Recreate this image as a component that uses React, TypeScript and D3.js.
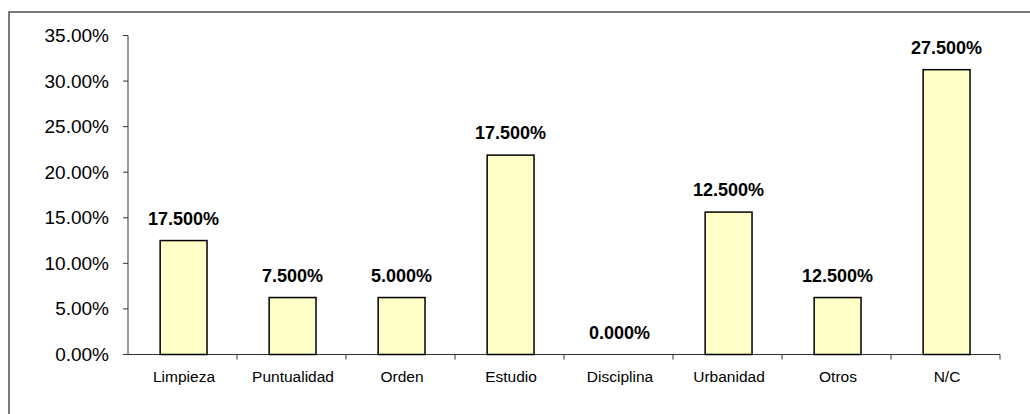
import React from "react";
import * as d3 from "d3";

const categories = ["Limpieza", "Puntualidad", "Orden", "Estudio", "Disciplina", "Urbanidad", "Otros", "N/C"];
const barValues = [12.5, 6.25, 6.25, 21.875, 0, 15.625, 6.25, 31.25];
const labelTexts = ["17.500%", "7.500%", "5.000%", "17.500%", "0.000%", "12.500%", "12.500%", "27.500%"];
const yTicks = [0, 5, 10, 15, 20, 25, 30, 35];

export default function App() {
  const W = 1030, H = 414;
  const x0 = 128, x1 = 1000, yTop = 35.5, yBot = 354.5;
  const xb = d3.scaleBand<string>().domain(categories).range([x0, x1]);
  const y = d3.scaleLinear().domain([0, 35]).range([yBot, yTop]);
  const fmt = (v: number) => v.toFixed(2) + "%";
  const bw = xb.bandwidth() * 0.43;
  const bOff = xb.bandwidth() * 0.295;
  return (
    <svg width={W} height={H} style={{ position: "absolute", left: 0, top: 0, fontFamily: "Arial, 'Liberation Sans', sans-serif" }}>
      <rect x={0} y={0} width={W} height={H} fill="#fff" />
      <rect x={9} y={12} width={1040} height={420} fill="#fff" stroke="#222" strokeWidth={1.2} />
      <line x1={x0} x2={x0} y1={yTop} y2={yBot} stroke="#333" strokeWidth={1} />
      {yTicks.map((t) => (
        <g key={t}>
          <line x1={x0 - 5} x2={x0} y1={y(t)} y2={y(t)} stroke="#333" />
          <text x={109} y={y(t) + 6.5} textAnchor="end" fontSize={19} fill="#000">{fmt(t)}</text>
        </g>
      ))}
      <line x1={x0} x2={x1} y1={yBot} y2={yBot} stroke="#333" strokeWidth={1} />
      {categories.map((c, i) => (
        <line key={"t" + i} x1={(xb(c) as number) + xb.bandwidth()} x2={(xb(c) as number) + xb.bandwidth()} y1={yBot} y2={yBot + 5} stroke="#333" />
      ))}
      {categories.map((c, i) => {
        const bx = (xb(c) as number) + bOff;
        const v = barValues[i];
        return (
          <g key={c}>
            {v > 0 && (
              <rect x={bx} y={y(v)} width={bw} height={yBot - y(v)} fill="#FFFFC8" stroke="#000" strokeWidth={1.5} />
            )}
            <text x={bx + bw / 2} y={y(v) - 16} textAnchor="middle" fontSize={18} fontWeight="bold" fill="#000">{labelTexts[i]}</text>
            <text x={(xb(c) as number) + xb.bandwidth() / 2 + 1.5} y={382} textAnchor="middle" fontSize={15.5} fill="#000">{c}</text>
          </g>
        );
      })}
    </svg>
  );
}
